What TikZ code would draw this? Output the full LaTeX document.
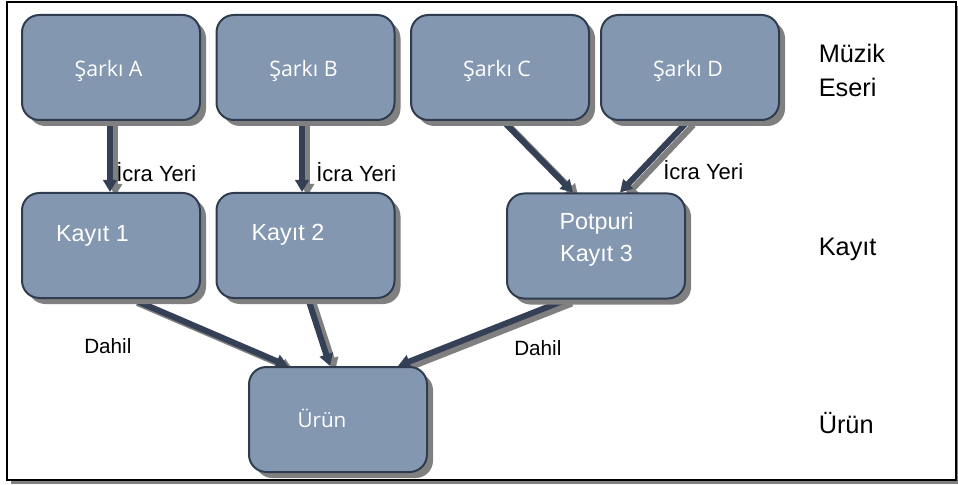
\documentclass[tikz,border=0pt]{standalone}
\usepackage{fontspec}
\setmainfont{Liberation Sans}
\newfontfamily\opensans{Open Sans}
\usepackage{tikz}
\usetikzlibrary{arrows.meta,shadows,backgrounds}

\definecolor{boxfill}{RGB}{132,151,176}
\definecolor{boxline}{RGB}{47,60,80}
\definecolor{arrowc}{RGB}{52,64,86}
\definecolor{shadowgray}{RGB}{128,128,128}

\begin{document}
\begin{tikzpicture}[x=0.75pt, y=-0.75pt,
  box/.style={draw=boxline, line width=1.5pt, fill=boxfill, rounded corners=13pt,
    minimum width=133.5pt, minimum height=78.75pt,
    drop shadow={shadow xshift=4.5pt, shadow yshift=-4.5pt, fill=shadowgray, opacity=1}},
  songtext/.style={inner sep=0, text=white, font=\opensans\fontsize{16}{19}\selectfont, anchor=base},
  rectext/.style={inner sep=0, text=white, font=\fontsize{17.5}{24}\selectfont, anchor=base},
  sidetext/.style={inner sep=0, font=\fontsize{19}{25.5}\selectfont, anchor=base west},
  edgetext/.style={inner sep=0, font=\fontsize{15.5}{18}\selectfont, anchor=base west},
  arr/.style={line width=4.5pt, -{Triangle[width=10pt,length=9pt]}}]
\useasboundingbox (0,0) rectangle (958,485);

% frame
\begin{scope}[on background layer]
\draw[line width=1.5pt, fill=white,
  drop shadow={shadow xshift=3pt, shadow yshift=-3pt, fill=shadowgray, opacity=1}]
  (7,2) rectangle (956,480);
\end{scope}

% songs
\node[box] (sa) at (111,67.5) {};
\node[box] (sb) at (305.5,67.5) {};
\node[box] (sc) at (500,67.5) {};
\node[box] (sd) at (690,67.5) {};
\node[songtext] (tsa) at (108.5,77) {Şarkı A};
\node[songtext] (tsb) at (303.5,77) {Şarkı B};
\node[songtext] (tsc) at (497,77) {Şarkı C};
\node[songtext] (tsd) at (688,77) {Şarkı D};

% recordings
\node[box] (k1) at (111,245.5) {};
\node[box] (k2) at (305.5,245.5) {};
\node[box] (pk) at (596,246) {};
\node[rectext] (tk1) at (92.5,241) {Kayıt 1};
\node[rectext] (tk2) at (288,240) {Kayıt 2};
\node[rectext, align=center, anchor=center] (tpk) at (596.5,239) {Potpuri\\Kayıt 3};

% product
\node[box] (ur) at (338,419.5) {};
\node[songtext, font=\opensans\fontsize{15.5}{18}\selectfont] (tur) at (322,427) {Ürün};

% level names
\node[sidetext, align=left, anchor=west] (lmuz) at (818.5,70) {Müzik\\Eseri};
\node[sidetext] (lkay) at (818.5,255) {Kayıt};
\node[sidetext] (lur) at (818.5,433) {Ürün};

% edge labels
\node[edgetext, font=\fontsize{16.5}{19}\selectfont] (e1) at (116,181) {İcra Yeri};
\node[edgetext, font=\fontsize{16.5}{19}\selectfont] (e2) at (316,181) {İcra Yeri};
\node[edgetext, font=\fontsize{16.5}{19}\selectfont] (e3) at (663,180) {İcra Yeri};
\node[edgetext] (d1) at (84,353) {Dahil};
\node[edgetext] (d2) at (514,355) {Dahil};

% arrows, gray shadow first
\begin{scope}[on background layer]
\foreach \col/\dx/\dy in {shadowgray/4/-3, arrowc/0/0} {
  \draw[arr, draw=\col, fill=\col] ([xshift=-0.75pt+\dx pt, yshift=\dy pt]sa.south) -- ([xshift=-0.75pt+\dx pt, yshift=\dy pt]k1.north);
  \draw[arr, draw=\col, fill=\col] ([xshift=-2.6pt+\dx pt, yshift=\dy pt]sb.south) -- ([xshift=-2.6pt+\dx pt, yshift=\dy pt]k2.north);
  \draw[arr, draw=\col, fill=\col] ([xshift=2.25pt+\dx pt, yshift=\dy pt]sc.south) -- ([xshift=-17.25pt+\dx pt, yshift=\dy pt]pk.north);
  \draw[arr, draw=\col, fill=\col] ([xshift=-1.5pt+\dx pt, yshift=\dy pt]sd.south) -- ([xshift=18pt+\dx pt, yshift=\dy pt]pk.north);
  \draw[arr, draw=\col, fill=\col] ([xshift=15.75pt+\dx pt, yshift=\dy pt]k1.south) -- ([xshift=-37.5pt+\dx pt, yshift=\dy pt]ur.north);
  \draw[arr, draw=\col, fill=\col] ([xshift=2pt+\dx pt, yshift=\dy pt]k2.south) -- ([xshift=-6pt+\dx pt, yshift=\dy pt]ur.north);
  \draw[arr, draw=\col, fill=\col] ([xshift=-22pt+\dx pt, yshift=\dy pt]pk.south) -- ([xshift=45pt+\dx pt, yshift=\dy pt]ur.north);
}
\end{scope}
\end{tikzpicture}
\end{document}
